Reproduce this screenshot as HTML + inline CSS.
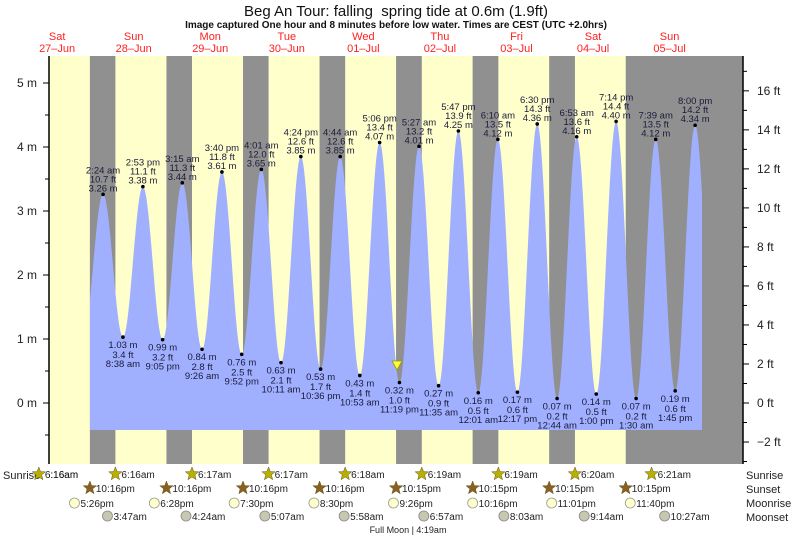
<!DOCTYPE html>
<html><head><meta charset="utf-8"><style>
body{margin:0;background:#fff}
svg{display:block;font-family:"Liberation Sans",sans-serif}
</style></head><body>
<svg id="s" width="793" height="537" xmlns="http://www.w3.org/2000/svg"></svg>
<script>
const S=document.getElementById('s');let o='';
const X=h=>95.4+3.19*h, Y=m=>403-64*m;
const T=(d,s)=>{let [hm,ap]=s.split(' ');let [a,b]=hm.split(':').map(Number);if(ap=='pm'&&a!=12)a+=12;if(ap=='am'&&a==12)a=0;return d*24+a+b/60;};
o+=`<rect x="49" y="56" width="694" height="408" fill="#ffffcc"/>`;
const sunset=['10:16 pm','10:16 pm','10:16 pm','10:16 pm','10:15 pm','10:15 pm','10:15 pm','10:15 pm'];
const sunrise=['6:16 am','6:16 am','6:17 am','6:17 am','6:18 am','6:19 am','6:19 am','6:20 am','6:21 am'];
for(let d=0;d<7;d++){let a=X(T(d-1,sunset[d])),b=X(T(d,sunrise[d+1]));o+=`<rect x="${a}" y="56" width="${b-a}" height="408" fill="#909090"/>`;}
let a7=X(T(6,sunset[7]));o+=`<rect x="${a7}" y="56" width="${743-a7}" height="408" fill="#909090"/>`;
const P=[[0,'2:24 am',3.26,10.7],[0,'2:53 pm',3.38,11.1],[1,'3:15 am',3.44,11.3],[1,'3:40 pm',3.61,11.8],[2,'4:01 am',3.65,12.0],[2,'4:24 pm',3.85,12.6],[3,'4:44 am',3.85,12.6],[3,'5:06 pm',4.07,13.4],[4,'5:27 am',4.01,13.2],[4,'5:47 pm',4.25,13.9],[5,'6:10 am',4.12,13.5],[5,'6:30 pm',4.36,14.3],[6,'6:53 am',4.16,13.6],[6,'7:14 pm',4.40,14.4],[7,'7:39 am',4.12,13.5],[7,'8:00 pm',4.34,14.2]];
const L=[[0,'8:38 am',1.03,3.4],[0,'9:05 pm',0.99,3.2],[1,'9:26 am',0.84,2.8],[1,'9:52 pm',0.76,2.5],[2,'10:11 am',0.63,2.1],[2,'10:36 pm',0.53,1.7],[3,'10:53 am',0.43,1.4],[3,'11:19 pm',0.32,1.0],[4,'11:35 am',0.27,0.9],[5,'12:01 am',0.16,0.5],[5,'12:17 pm',0.17,0.6],[6,'12:44 am',0.07,0.2],[6,'1:00 pm',0.14,0.5],[7,'1:30 am',0.07,0.2],[7,'1:45 pm',0.19,0.6]];
let E=[[X(-3.8),1.05]];
for(let i=0;i<16;i++){E.push([X(T(P[i][0],P[i][1])),P[i][2]]);if(i<15)E.push([X(T(L[i][0],L[i][1])),L[i][2]]);}
E.push([715,0.3]);
function lev(x){for(let i=0;i<E.length-1;i++){if(x>=E[i][0]&&x<=E[i+1][0]){let f=(x-E[i][0])/(E[i+1][0]-E[i][0]);return E[i][1]+(E[i+1][1]-E[i][1])*(1-Math.cos(Math.PI*f))/2;}}return 0;}
let d=`M90,430`;for(let x=90;x<=702;x+=0.5)d+=`L${x},${Y(lev(x)).toFixed(1)}`;d+=`L702,430Z`;
o+=`<path d="${d}" fill="#a0b0ff"/>`;
const tx='font-size="9.5" fill="#1a1a3a" text-anchor="middle"';
P.forEach(p=>{let x=X(T(p[0],p[1])),y=Y(p[2]);o+=`<circle cx="${x}" cy="${y}" r="1.8" fill="#000"/><text x="${x}" y="${y-21}" ${tx}>${p[1]}</text><text x="${x}" y="${y-12}" ${tx}>${p[3].toFixed(1)} ft</text><text x="${x}" y="${y-3}" ${tx}>${p[2].toFixed(2)} m</text>`;});
L.forEach(p=>{let x=X(T(p[0],p[1])),y=Y(p[2]);o+=`<circle cx="${x}" cy="${y}" r="1.8" fill="#000"/><text x="${x}" y="${y+11}" ${tx}>${p[2].toFixed(2)} m</text><text x="${x}" y="${y+21}" ${tx}>${p[3].toFixed(1)} ft</text><text x="${x}" y="${y+30}" ${tx}>${p[1]}</text>`;});
o+=`<polygon points="392,361 402,361 397,370" fill="#ffff33" stroke="#999900" stroke-width="0.8"/>`;
o+=`<line x1="49" y1="56" x2="49" y2="464" stroke="#000" stroke-width="1.5"/><line x1="743" y1="56" x2="743" y2="464" stroke="#000" stroke-width="1.5"/>`;
for(let m=-0.5;m<=5.5;m+=0.5){let y=Y(m);if(y<56||y>464)continue;let maj=Number.isInteger(m);o+=`<line x1="${maj?43:45}" y1="${y}" x2="49" y2="${y}" stroke="#000"/>`;if(maj)o+=`<text x="37" y="${y+4}" font-size="12" text-anchor="end" fill="#222">${m} m</text>`;}
for(let f=-3;f<=18;f++){let y=403-19.51*f;if(y<56||y>464)continue;let maj=f%2==0;o+=`<line x1="743" y1="${y}" x2="${maj?749:747}" y2="${y}" stroke="#000"/>`;if(maj)o+=`<text x="757" y="${y+4}" font-size="12" fill="#222">${f<0?'\u2212'+(-f):f} ft</text>`;}
o+=`<text x="396" y="16" font-size="15" text-anchor="middle" fill="#111">Beg An Tour: falling &#160;spring tide at 0.6m (1.9ft)</text>`;
o+=`<text x="396" y="28" font-size="10" font-weight="bold" text-anchor="middle" fill="#111">Image captured One hour and 8 minutes before low water. Times are CEST (UTC +2.0hrs)</text>`;
const days=[['Sat','27\u2013Jun'],['Sun','28\u2013Jun'],['Mon','29\u2013Jun'],['Tue','30\u2013Jun'],['Wed','01\u2013Jul'],['Thu','02\u2013Jul'],['Fri','03\u2013Jul'],['Sat','04\u2013Jul'],['Sun','05\u2013Jul']];
days.forEach((v,i)=>{let x=X((i-1)*24+12);o+=`<text x="${x}" y="40" font-size="11" fill="#ff2020" text-anchor="middle">${v[0]}</text><text x="${x}" y="52" font-size="11" fill="#ff2020" text-anchor="middle">${v[1]}</text>`;});
function star(x,y,c){let p=[];for(let k=0;k<10;k++){let r=k%2?3:7,a=-Math.PI/2+k*Math.PI/5;p.push((x+r*Math.cos(a)).toFixed(1)+','+(y+r*Math.sin(a)).toFixed(1));}return `<polygon points="${p.join(' ')}" fill="${c}" stroke="#665522" stroke-width="0.5"/>`;}
const bt='font-size="10" fill="#222"';
const fmt=s=>s.replace(' ','');
sunrise.forEach((s,i)=>{let x=X(T(i-1,s));o+=star(x,474,'#b8b000')+`<text x="${x+6}" y="478" ${bt}>${fmt(s)}</text>`;});
sunset.forEach((s,i)=>{let x=X(T(i-1,s));o+=star(x,488,'#8a6020')+`<text x="${x+6}" y="492" ${bt}>${fmt(s)}</text>`;});
const mr=['5:26 pm','6:28 pm','7:30 pm','8:30 pm','9:26 pm','10:16 pm','11:01 pm','11:40 pm'];
mr.forEach((s,i)=>{let x=X(T(i-1,s));o+=`<circle cx="${x}" cy="503" r="5" fill="#ffffcc" stroke="#999" stroke-width="0.8"/><text x="${x+6}" y="507" ${bt}>${fmt(s)}</text>`;});
const ms=['3:47 am','4:24 am','5:07 am','5:58 am','6:57 am','8:03 am','9:14 am','10:27 am'];
ms.forEach((s,i)=>{let x=X(T(i,s));o+=`<circle cx="${x}" cy="516" r="5" fill="#c8c8b0" stroke="#888" stroke-width="0.8"/><text x="${x+6}" y="520" ${bt}>${fmt(s)}</text>`;});
o+=`<rect x="0" y="466" width="49" height="14" fill="#fff"/>`;
o+=`<text x="408" y="533" font-size="9" text-anchor="middle" fill="#222">Full Moon | 4:19am</text>`;
['Sunrise','Sunset','Moonrise','Moonset'].forEach((t,i)=>{o+=`<text x="746" y="${479+i*14}" font-size="11" fill="#222">${t}</text>`;});
o+=`<text x="3" y="479" font-size="11" fill="#222">Sunrise</text>`;
let x0=X(T(-1,'6:16 am'));o+=star(x0,474,'#b8b000')+`<text x="${x0+6}" y="478" ${bt}>6:16am</text>`;
S.innerHTML=o;
</script>
</body></html>
